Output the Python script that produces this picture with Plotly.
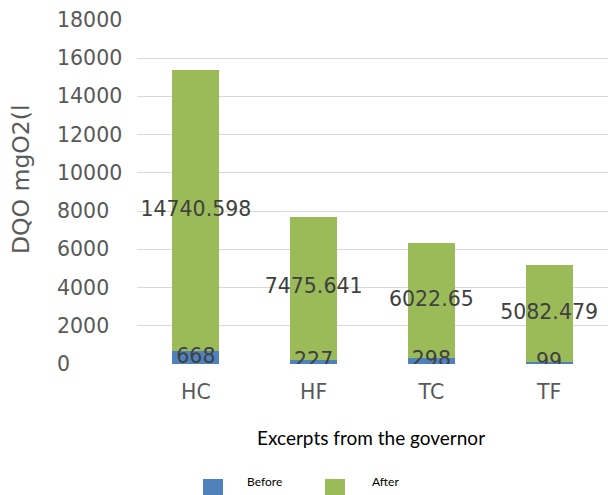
import plotly.graph_objects as go

# Chemical oxygen demand per sample, before and after treatment
categories = ["HC", "HF", "TC", "TF"]
before = [668, 227, 298, 99]
after = [14740.598, 7475.641, 6022.65, 5082.479]
y_ticks = [0, 2000, 4000, 6000, 8000, 10000, 12000, 14000, 16000, 18000]

BLUE = "#4F81BD"
GREEN = "#9BBB59"
TICK_FONT = dict(family="DejaVu Sans", size=20.5, color="#595959")
LABEL_FONT = dict(family="DejaVu Sans", size=20.5, color="#404040")

W, H = 608, 495
L, R, T, B = 137, 0, 20, 131
pw, ph = W - L - R, H - T - B


def px(x):
    """pixel x -> paper x"""
    return (x - L) / pw


def py(y):
    """pixel y (from top) -> paper y"""
    return (H - B - y) / ph


fig = go.Figure()
fig.add_trace(go.Bar(x=categories, y=before, name="Before", marker_color=BLUE,
                     marker_line_width=0))
fig.add_trace(go.Bar(x=categories, y=after, name="After", marker_color=GREEN,
                     marker_line_width=0))

# value labels centred on each stacked segment
before_mid = [b / 2 for b in before]
after_mid = [b + a / 2 for b, a in zip(before, after)]
fig.add_trace(go.Scatter(x=categories, y=before_mid, mode="text",
                         text=[f"{v}" for v in before], textfont=LABEL_FONT,
                         textposition="middle center", hoverinfo="skip"))
fig.add_trace(go.Scatter(x=categories, y=after_mid, mode="text",
                         text=[f"{v}" for v in after], textfont=LABEL_FONT,
                         textposition="middle center", hoverinfo="skip"))

# left-aligned value axis labels
annotations = [
    dict(x=px(55), xref="paper", xanchor="left", y=t, yref="y", yanchor="middle",
         text=str(t), showarrow=False, font=TICK_FONT)
    for t in y_ticks
]
annotations += [
    dict(x=px(21), xref="paper", xanchor="center", y=py(179), yref="paper",
         yanchor="middle", text="DQO mgO2(l", textangle=-90, showarrow=False,
         font=dict(family="DejaVu Sans", size=23.5, color="#595959")),
    dict(x=px(371), xref="paper", xanchor="center", y=py(437), yref="paper",
         yanchor="middle", text="Excerpts from the governor", showarrow=False,
         font=dict(family="Lato", size=19, color="#000000")),
    dict(x=px(245), xref="paper", xanchor="left", y=py(481), yref="paper",
         yanchor="middle", text="Before", showarrow=False,
         font=dict(family="Lato", size=12, color="#000000")),
    dict(x=px(370), xref="paper", xanchor="left", y=py(481), yref="paper",
         yanchor="middle", text="After", showarrow=False,
         font=dict(family="Lato", size=12, color="#000000")),
]

shapes = [
    dict(type="rect", xref="paper", yref="paper", x0=px(203), x1=px(223),
         y0=py(479), y1=py(497), fillcolor=BLUE, line_width=0),
    dict(type="rect", xref="paper", yref="paper", x0=px(325), x1=px(345),
         y0=py(479), y1=py(497), fillcolor=GREEN, line_width=0),
]

fig.update_layout(
    width=W, height=H,
    margin=dict(l=L, r=R, t=T, b=B, pad=0),
    barmode="stack", bargap=0.6,
    showlegend=False,
    plot_bgcolor="white", paper_bgcolor="white",
    annotations=annotations, shapes=shapes,
    xaxis=dict(showgrid=False, showline=False, ticks="", tickfont=TICK_FONT,
               ticklabelstandoff=13),
    yaxis=dict(range=[0, 18000], tickvals=y_ticks, showticklabels=False,
               showgrid=True, gridcolor="#D9D9D9", gridwidth=1.3,
               zeroline=False, showline=False, ticks=""),
)

fig.write_html("out.html")
